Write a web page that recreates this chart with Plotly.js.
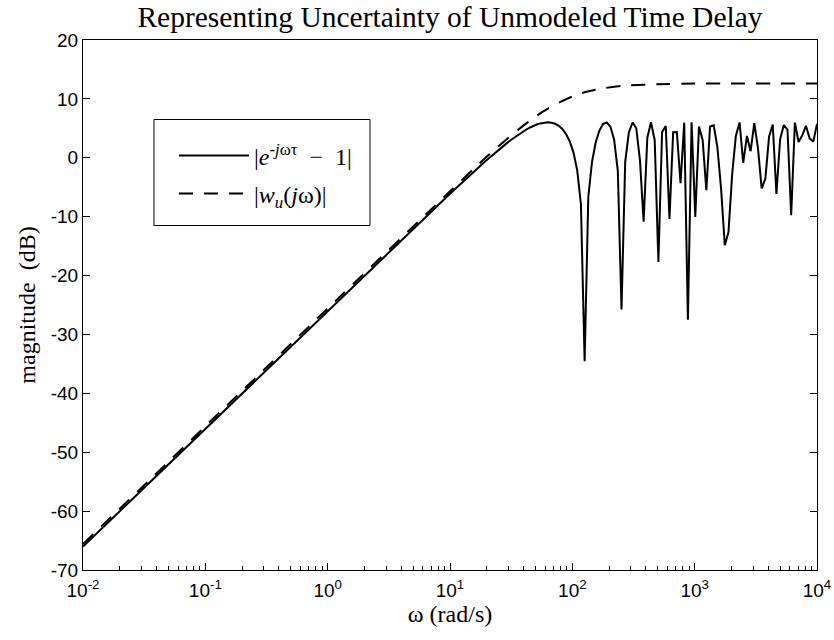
<!DOCTYPE html>
<html>
<head>
<meta charset="utf-8">
<script src="https://cdn.plot.ly/plotly-3.0.1.min.js"></script>
<style>
  html, body { margin: 0; padding: 0; background: #fff; }
  #chart { width: 834px; height: 640px; }
</style>
</head>
<body>
<div id="chart"></div>
<script>
// Frequency (rad/s) and magnitude (dB) of |e^{-jωτ} - 1|
const freqSolid = [0.01, 0.1, 1, 10,
  19.34, 20.73, 22.22, 23.82, 25.53, 27.37, 29.33, 31.44, 33.70, 36.12,
  38.72, 41.50, 44.49, 47.69, 51.12, 54.79, 58.73, 62.95, 67.48, 72.33,
  77.53, 83.10, 89.07, 95.48, 102.34, 109.70, 117.59, 126.04, 135.10, 144.81,
  155.22, 166.38, 178.34, 191.17, 204.91, 219.64, 235.43, 252.36, 270.50, 289.94,
  310.79, 333.13, 357.08, 382.75, 410.27, 439.76, 471.38, 505.27, 541.59, 580.52,
  622.26, 666.99, 714.94, 766.34, 821.43, 880.49, 943.79, 1011.6, 1084.4, 1162.3,
  1245.9, 1335.5, 1431.5, 1534.4, 1644.7, 1762.9, 1889.7, 2025.5, 2171.1, 2327.2,
  2494.5, 2673.8, 2866.1, 3072.1, 3293.0, 3529.7, 3783.5, 4055.5, 4347.0, 4659.5,
  4994.5, 5353.6, 5738.4, 6151.0, 6593.2, 7067.2, 7575.3, 8119.8, 8703.6, 9329.3,
  10000];
const magSolid = [-66.02, -46.02, -26.02, -6.11,
  -0.63, -0.08, 0.46, 1.00, 1.52, 2.03, 2.53, 3.02, 3.48, 3.92,
  4.34, 4.72, 5.07, 5.38, 5.64, 5.84, 5.97, 6.02, 5.96, 5.78,
  5.42, 4.85, 4.00, 2.74, 0.84, -2.19, -7.93, -34.54, -6.61, -0.71,
  2.59, 4.62, 5.74, 6.00, 5.27, 3.07, -2.22, -25.78, -0.70, 4.32,
  5.99, 5.00, -0.40, -10.84, 3.40, 6.02, 2.98, -17.69, 4.37, 5.39,
  -10.40, 4.33, 4.38, -4.32, 5.96, -27.51, 6.02, -10.03, 5.29, 3.00,
  -5.49, 5.31, 5.50, 1.77, -5.27, -14.85, -12.61, -2.77, 3.69, 6.00,
  -0.87, 3.70, 1.12, 5.90, 1.58, -5.21, -3.55, 3.58, 5.65, -6.14,
  3.14, 5.56, 4.80, -9.75, 5.97, 2.69, 3.80, 5.43, 3.30, 2.74,
  5.76];

// Uncertainty weight |w_u(jω)|
const freqBound = [0.01, 1, 10, 20, 30, 40, 50, 63, 80, 100, 130, 180, 250, 300, 500, 1000, 10000];
const magBound  = [-65.6, -25.6, -5.7, 0.2, 3.4, 5.5, 7.0, 8.35, 9.5, 10.4, 11.2, 11.8, 12.2, 12.3, 12.5, 12.6, 12.6];

const xTickVals = [0.01, 0.1, 1, 10, 100, 1000, 10000];
const xTickText = ['10<sup>-2</sup>', '10<sup>-1</sup>', '10<sup>0</sup>', '10<sup>1</sup>',
                   '10<sup>2</sup>', '10<sup>3</sup>', '10<sup>4</sup>'];
const yTickVals = [-70, -60, -50, -40, -30, -20, -10, 0, 10, 20];
const yTickText = ['-70', '-60', '-50', '-40', '-30', '-20', '-10', '0', '10', '20'];

const seriesNames = ['|<i>e</i><sup>-<i>j</i>ωτ</sup>\u2002−\u20021|', '|<i>w<sub>u</sub></i>(<i>j</i>ω)|'];

const serif = 'Liberation Serif, Times New Roman, serif';
const sans = 'Liberation Sans, Arial, sans-serif';

const traces = [
  {
    x: freqSolid, y: magSolid, type: 'scatter', mode: 'lines',
    name: seriesNames[0], legendgroup: 'a', hoverinfo: 'skip',
    line: { color: '#000', width: 2 }
  },
  {
    x: freqBound, y: magBound, type: 'scatter', mode: 'lines',
    name: seriesNames[1], legendgroup: 'b', hoverinfo: 'skip',
    line: { color: '#000', width: 2, dash: '14px,11px', shape: 'spline', smoothing: 0.6 }
  }
];

const axisCommon = {
  ticks: 'inside', ticklen: 7, tickcolor: '#000', tickwidth: 1,
  showline: true, linecolor: '#000', linewidth: 1,
  showgrid: false, zeroline: false
};

const layout = {
  width: 834, height: 640,
  margin: { l: 83, r: 17, t: 40, b: 70, pad: 0 },
  paper_bgcolor: '#fff', plot_bgcolor: '#fff',
  showlegend: true,
  title: {
    text: 'Representing Uncertainty of Unmodeled Time Delay',
    font: { family: serif, size: 29.5, color: '#000' },
    x: 0.5, xref: 'paper', y: 0.974, yref: 'container', yanchor: 'middle'
  },
  xaxis: Object.assign({}, axisCommon, {
    type: 'log', range: [-2, 4], tickvals: xTickVals, ticktext: xTickText,
    tickfont: { family: sans, size: 19, color: '#000' },
    mirror: true, ticklabelstandoff: 3,
    minor: { dtick: 'D1', ticks: 'inside', ticklen: 4, tickcolor: '#000', showgrid: false },
    title: { text: 'ω (rad/s)', font: { family: serif, size: 24, color: '#000' }, standoff: 2 }
  }),
  xaxis2: Object.assign({}, axisCommon, {
    type: 'log', range: [-2, 4], tickvals: xTickVals, showticklabels: false,
    overlaying: 'x', side: 'top', anchor: 'y',
    minor: { dtick: 'D1', ticks: 'inside', ticklen: 4, tickcolor: '#000', showgrid: false }
  }),
  yaxis: Object.assign({}, axisCommon, {
    range: [-70, 20], tickvals: yTickVals, ticktext: yTickText,
    tickfont: { family: sans, size: 19, color: '#000' },
    mirror: 'ticks',
    title: { text: 'magnitude  (dB)', font: { family: serif, size: 24, color: '#000' }, standoff: 8 }
  }),
  legend: {
    x: 0.124, y: 0.824, xanchor: 'left', yanchor: 'top',
    bgcolor: 'rgba(0,0,0,0)', borderwidth: 0,
    font: { family: serif, size: 24, color: '#000' },
    traceorder: 'grouped', tracegroupgap: 4, itemwidth: 70
  },
  shapes: [{
    type: 'rect', xref: 'paper', yref: 'paper',
    x0: 0.0967, x1: 0.391, y0: 0.65, y1: 0.85,
    line: { color: '#000', width: 1 }, fillcolor: 'rgba(0,0,0,0)', layer: 'above'
  }]
};

Plotly.newPlot('chart', traces, layout, { displayModeBar: false, staticPlot: true });
</script>
</body>
</html>
